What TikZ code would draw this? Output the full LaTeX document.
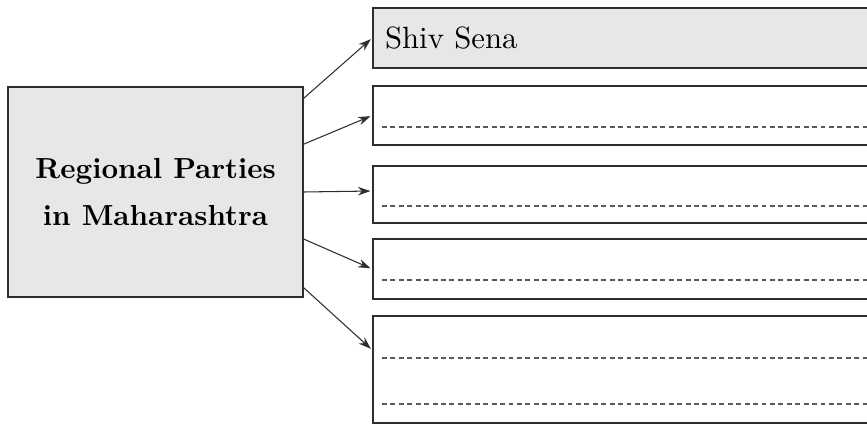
\documentclass[tikz,border=0pt]{standalone}
\usepackage{fontspec}
\setmainfont{lmroman10}[Extension=.otf, UprightFont=*-regular, BoldFont=*-bold]
\usetikzlibrary{arrows.meta}
\definecolor{boxgray}{HTML}{E6E7E8}
\definecolor{edgegray}{HTML}{2E2E2E}
\definecolor{dashgray}{HTML}{5A5A5A}
\begin{document}
\begin{tikzpicture}[x=0.02cm, y=-0.02cm,
    partbox/.style={draw=edgegray, line width=1pt, inner sep=0pt, minimum width=10.54cm},
    partarrow/.style={-{Stealth[length=0.25cm, width=0.17cm]}, line width=0.6pt, edgegray, shorten >=1pt},
    writeline/.style={dashgray, line width=0.6pt, dash pattern=on 2.8pt off 2pt}]
                \clip (0,0) rectangle (867,426);

                % Main box (grey)
                \node[draw=edgegray, line width=1pt, fill=boxgray, minimum width=5.9cm, minimum height=4.2cm,
                      align=center, font=\fontsize{16.5}{27.2}\selectfont\bfseries] (main) at (155.5,192)
                      {Regional Parties\\in Maharashtra};

                % --- ANSWER BOXES ---
                \node[partbox, fill=boxgray, minimum height=1.2cm, text width=10.06cm, inner xsep=0.24cm,
                      align=left, font=\fontsize{17.5}{21}\selectfont] (sena) at (636.5,38) {Shiv Sena};
                \node[partbox, minimum height=1.18cm] (partyB) at (636.5,115.5) {};
                \node[partbox, minimum height=1.14cm] (partyC) at (636.5,194.5) {};
                \node[partbox, minimum height=1.2cm] (partyD) at (636.5,269) {};
                \node[partbox, minimum height=2.14cm] (partyE) at (636.5,369.5) {};

                % Lines to write on
                \foreach \y in {127,206,280,358,404}
                    \draw[writeline] (382,\y) -- (867,\y);

                % --- ARROWS ---
                \draw[partarrow] ([yshift=-0.24cm]main.north east) -- (sena.west);
                \draw[partarrow] ([yshift=-1.16cm]main.north east) -- (partyB.west);
                \draw[partarrow] (main.east) -- ([yshift=0.07cm]partyC.west);
                \draw[partarrow] ([yshift=-3.06cm]main.north east) -- (partyD.west);
                \draw[partarrow] ([yshift=0.2cm]main.south east) -- ([yshift=0.39cm]partyE.west);
\end{tikzpicture}
\end{document}
